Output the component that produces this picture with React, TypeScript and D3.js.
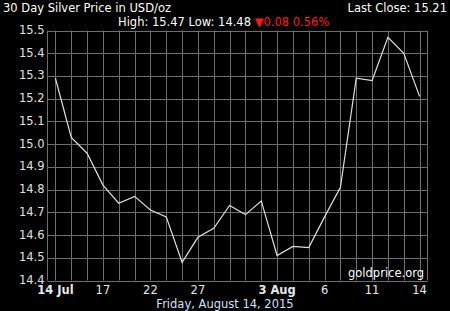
import React from "react";
import * as d3 from "d3";

const dates = [
  "14 Jul","15","16","17","20","21","22","23","24","27","28","29","30","31",
  "3 Aug","4","5","6","7","10","11","12","13","14",
];
const prices = [
  15.29, 15.03, 14.96, 14.82, 14.74, 14.77, 14.71, 14.68, 14.48, 14.59, 14.63, 14.73,
  14.69, 14.75, 14.51, 14.55, 14.545, 14.68, 14.81, 15.29, 15.28, 15.47, 15.40, 15.21,
];
const labeledIdx = [0, 3, 6, 9, 14, 17, 20, 23];
const boldIdx = [0, 14];
const yTicks = [14.4, 14.5, 14.6, 14.7, 14.8, 14.9, 15.0, 15.1, 15.2, 15.3, 15.4, 15.5];

const W = 450, H = 311;
const left = 47.5, right = 427.5, top = 30.5, bottom = 280.5;
const font = "'DejaVu Sans', Verdana, sans-serif";
const fs = 11.5;

export default function App() {
  const x = d3.scalePoint<number>().domain(d3.range(dates.length)).range([left, right]).padding(0.5);
  const y = d3.scaleLinear().domain([14.4, 15.5]).range([bottom, top]);
  const line = d3.line<number>().x((_, i) => x(i)!).y((d) => y(d));
  const grid = "#6e6e6e";
  return (
    <svg width={W} height={H} style={{ position: "absolute", left: 0, top: 0, background: "#000" }}>
      <rect x={0} y={0} width={W} height={H} fill="#000" />
      {yTicks.map((t) => (
        <line key={"h" + t} x1={left} x2={right} y1={Math.round(y(t)) + 0.5} y2={Math.round(y(t)) + 0.5} stroke={grid} strokeWidth={1} />
      ))}
      {dates.map((_, i) => (
        <line key={"v" + i} x1={Math.round(x(i)!) + 0.5} x2={Math.round(x(i)!) + 0.5} y1={top} y2={bottom} stroke={grid} strokeWidth={1} />
      ))}
      <line x1={left} x2={left} y1={top} y2={bottom} stroke={grid} />
      <line x1={right} x2={right} y1={top} y2={bottom} stroke={grid} />
      {yTicks.map((t) => (
        <text key={"yl" + t} x={44.5} y={y(t) + 3.5} textAnchor="end" fill="#e0e0e0" fontFamily={font} fontSize={fs}>
          {t.toFixed(1)}
        </text>
      ))}
      {labeledIdx.map((i) => (
        <text key={"xl" + i} x={x(i)!} y={294} textAnchor="middle" fill="#e8e8e8" fontFamily={font} fontSize={fs}
          fontWeight={boldIdx.includes(i) ? "bold" : "normal"}>
          {dates[i]}
        </text>
      ))}
      <path d={line(prices) || ""} fill="none" stroke="#e0e0e0" strokeWidth={1.2} />
      <text x={424} y={277} textAnchor="end" fill="#ffffff" fontFamily={font} fontSize={fs}>goldprice.org</text>
      <text x={225} y={308} textAnchor="middle" fill="#cfe0ff" fontFamily={font} fontSize={fs}>Friday, August 14, 2015</text>
      <text x={3} y={12} fill="#ffffff" fontFamily={font} fontSize={fs}>30 Day Silver Price in USD/oz</text>
      <text x={447} y={12} textAnchor="end" fill="#ffffff" fontFamily={font} fontSize={fs}>Last Close: 15.21</text>
      <text x={118} y={26} fill="#ffffff" fontFamily={font} fontSize={fs}>
        High: 15.47 Low: 14.48 <tspan fill="#ff1a1a">▼0.08 0.56%</tspan>
      </text>
    </svg>
  );
}
